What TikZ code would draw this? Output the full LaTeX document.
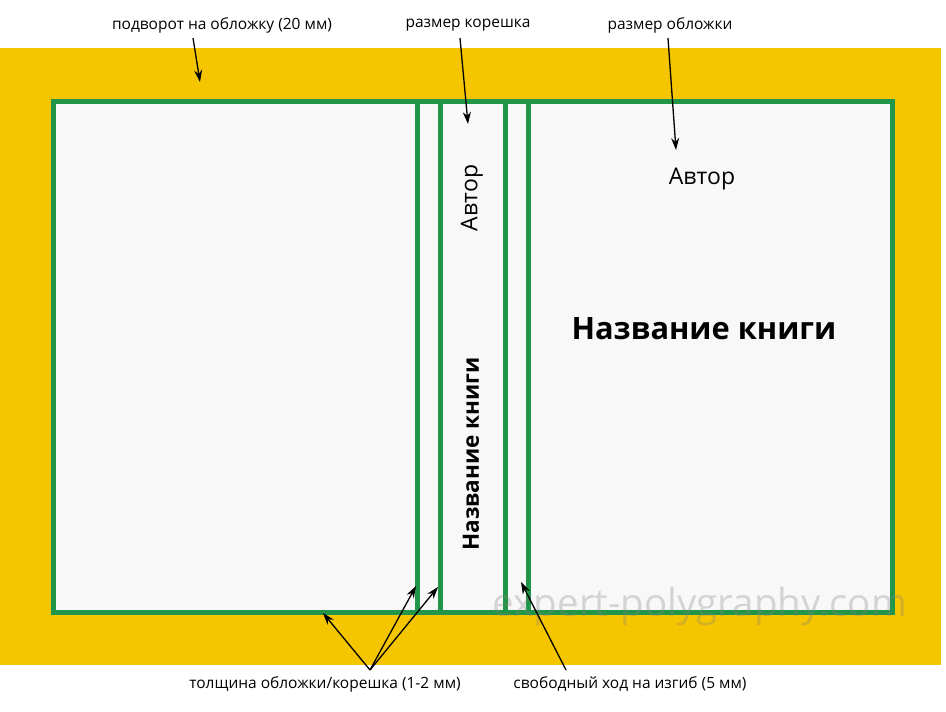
\documentclass[tikz,border=0pt]{standalone}
\usepackage{fontspec}
\setmainfont{Open Sans}
\usepackage{tikz}
\usetikzlibrary{arrows,arrows.meta,positioning,calc}
\definecolor{coveryellow}{RGB}{245,197,0}
\definecolor{covergreen}{RGB}{34,150,72}
\definecolor{paper}{RGB}{248,248,248}
\tikzset{
	lbl/.style={inner sep=1pt, font=\fontsize{15.5}{17}\selectfont},
	fold/.style={covergreen, line width=5pt},
	ptr/.style={->, line width=1.3pt}
}

\begin{document}
\begin{tikzpicture}[-,>={Stealth[length=12pt,width=8pt]}, x=1pt, y=-1pt, line width=1pt, node distance=0.5cm]
	
	\useasboundingbox (0,0) rectangle (946,712);
	\fill [white] (0,0) rectangle (946,712);
	\fill [coveryellow] (0,48) rectangle (941,665);
	
	% cover sheet and spine folds
	\draw [fold, fill=paper] (53,101) rectangle (892,612);
	\foreach \x in {417,440,505,528}
		\draw [fold] (\x,101) -- (\x,612);
	
	\node [opacity=0.3, text=gray, font=\fontsize{38.5}{42}\selectfont] (mark) at (700,606) {expert-polygraphy.com};
	
	\node [font=\fontsize{23}{26}\selectfont] (author) at (702,179) {Автор};
	\node [font=\bfseries\fontsize{30.8}{34}\selectfont] (title) at (704,329) {Название книги};
	\node [rotate=90, font=\fontsize{23}{26}\selectfont] (spineauthor) at (472,198) {Автор};
	\node [rotate=90, font=\bfseries\fontsize{22.5}{26}\selectfont] (spinetitle) at (471,454) {Название книги};
	
	\node [lbl] (turn) at (222,25) {подворот на обложку (20 мм)};
	\node [lbl] (spine) at (468,25) {размер корешка};
	\node [lbl] (size) at (670,25) {размер обложки};
	\node [lbl] (thick) at (325,684) {толщина обложки/корешка (1-2 мм)};
	\node [lbl] (bend) at (630,684) {свободный ход на изгиб (5 мм)};
	
	\coordinate (turnfrom) at (193,38);
	\coordinate (turnto) at (200,82);
	\coordinate (spinefrom) at (460,38);
	\coordinate (spineto) at (468,124);
	\coordinate (sizefrom) at (668,38);
	\coordinate (sizeto) at (676,150);
	\coordinate (thickfrom) at (370,670);
	\coordinate (edge) at (323,613);
	\coordinate (foldone) at (416,586);
	\coordinate (foldtwo) at (438,587);
	\coordinate (bendfrom) at (566,670);
	\coordinate (bendto) at (521,582);
	
	\path (turnfrom) edge [ptr] (turnto);
	\path (spinefrom) edge [ptr] (spineto);
	\path (sizefrom) edge [ptr] (sizeto);
	\path (thickfrom) edge [ptr] (edge);
	\path (thickfrom) edge [ptr] (foldone);
	\path (thickfrom) edge [ptr] (foldtwo);
	\path (bendfrom) edge [ptr] (bendto);
\end{tikzpicture}
\end{document}
